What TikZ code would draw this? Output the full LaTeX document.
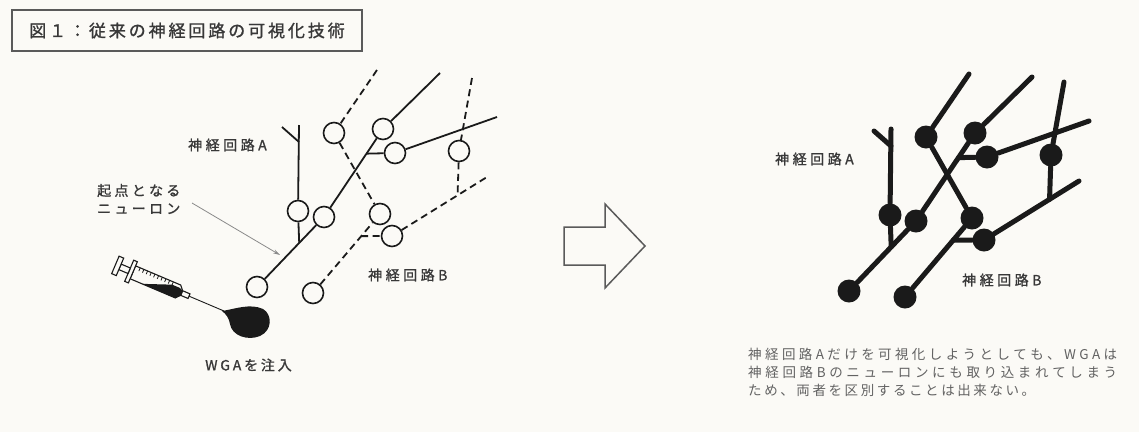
\documentclass[tikz,border=0pt]{standalone}
\usepackage{fontspec}
\newfontfamily\jp{Noto Sans CJK JP}
\newfontfamily\jpb[FakeBold=1.2]{Noto Sans CJK JP}
\usetikzlibrary{calc,arrows.meta}
\pgfdeclarelayer{background}
\pgfsetlayers{background,main}

\definecolor{paper}{HTML}{FBFAF6}
\definecolor{ink}{HTML}{1A1A1A}
\definecolor{txt}{HTML}{383838}
\definecolor{frame}{HTML}{5A5A5A}
\definecolor{soft}{HTML}{626262}
\definecolor{pointer}{HTML}{8A8A8A}

% letter-spaced text and justified lines, one character at a time
\makeatletter
\newcommand\trk[2]{\@tfor\trk@c:=#2\do{\trk@c\hspace{#1}}\unskip}
\newcommand\jline[2]{\hbox to #1{\@tfor\trk@c:=#2\do{\trk@c\hskip 0pt plus 1fil}\unskip}}
\makeatother

\tikzset{
  opencell/.style={circle, draw=ink, line width=1.6pt, fill=paper, minimum size=21pt, inner sep=0pt},
  dotcell/.style={circle, fill=ink, minimum size=23pt, inner sep=0pt},
  fibreA/.style={draw=ink, line width=1.8pt},
  fibreB/.style={draw=ink, line width=1.8pt, dash pattern=on 7pt off 4.5pt},
  heavy/.style={draw=ink, line width=5pt, line cap=round},
  label/.style={text=txt, font=\jpb\fontsize{14}{18}\selectfont, inner sep=0pt},
}

% two neuron circuits: #1 name prefix, #2 shift, #3 cell style, #4 circuit A style, #5 circuit B style
\newcommand\circuit[5]{%
  \begin{scope}[shift={#2}]
    \node[#3] (#1n1) at (334,133) {};
    \node[#3] (#1n2) at (383,129) {};
    \node[#3] (#1n3) at (395,153) {};
    \node[#3] (#1n4) at (459,151) {};
    \node[#3] (#1n5) at (298,211) {};
    \node[#3] (#1n6) at (324,217) {};
    \node[#3] (#1n7) at (380,214) {};
    \node[#3] (#1n8) at (392,236) {};
    \node[#3] (#1n9) at (257,287) {};
    \node[#3] (#1n10) at (313,293) {};
    \coordinate (#1a2) at (440,73);
    \coordinate (#1a3) at (497,117);
    \coordinate (#1stem) at (299,125);
    \coordinate (#1fork) at (299,142);
    \coordinate (#1arm) at (282,127);
    \coordinate (#1b1) at (377,70);
    \coordinate (#1b4) at (472,78);
    \coordinate (#1b8) at (487,177);
  \end{scope}
  \coordinate (#1j1) at ($(#1n9)!0.63!(#1n6)$);
  \coordinate (#1j2) at ($(#1n6)!0.72!(#1n2)$);
  \coordinate (#1j3) at ($(#1n10)!0.72!(#1n7)$);
  \coordinate (#1j4) at ($(#1n8)!0.69!(#1b8)$);
  \begin{pgfonlayer}{background}
    % circuit A
    \draw[#4] (#1n9) -- (#1n6) -- (#1n2) -- (#1a2);
    \draw[#4] (#1j2) -- (#1n3) -- (#1a3);
    \draw[#4] (#1stem) -- (#1n5) -- (#1j1);
    \draw[#4] (#1arm) -- (#1fork);
    % circuit B
    \draw[#5] (#1b1) -- (#1n1) -- (#1n7);
    \draw[#5] (#1n10) -- (#1n7);
    \draw[#5] (#1j3) -- (#1n8) -- (#1b8);
    \draw[#5] (#1b4) -- (#1n4) -- (#1j4);
  \end{pgfonlayer}
}

\begin{document}
\begin{tikzpicture}[x=1pt, y=-1pt]
  \useasboundingbox (0,0) rectangle (1139,432);
  \begin{pgfonlayer}{background}
    \fill[paper] (0,0) rectangle (1139,432);
  \end{pgfonlayer}

  % caption box
  \node[draw=frame, line width=1.5pt, minimum width=350pt, minimum height=41pt,
        inner sep=0pt, text=txt, font=\jpb\fontsize{17}{20}\selectfont]
    (title) at (187,30.5) {\trk{2.9pt}{図１：従来の神経回路の可視化技術}};

  % before: open cells, circuit B dashed
  \circuit{L}{(0,0)}{opencell}{fibreA}{fibreB}

  \node[label, anchor=west] (labA) at (188,145) {\trk{3.5pt}{神経回路A}};
  \node[label, anchor=west] (labB) at (368,275) {\trk{3.5pt}{神経回路B}};
  \node[label, anchor=west, align=left] (origin) at (97,199)
    {\trk{3.3pt}{起点となる}\\\trk{3.3pt}{ニューロン}};
  \coordinate (ptrStart) at (192,203);
  \coordinate (ptrEnd) at (280,255);
  \draw[pointer, line width=0.8pt, -{Stealth[length=7pt,width=4pt]}] (ptrStart) -- (ptrEnd);

  % syringe
  \begin{scope}[shift={(224,311)}, rotate=-23, draw=ink, line width=1.1pt]
    \draw[line width=0.9pt] (0,0) -- (-38,0);
    \draw[fill=paper] (-38,-2.5) rectangle (-46,2.5);
    \draw[fill=paper] (-46,-2.5) -- (-50,-7) -- (-99,-7) -- (-99,7) -- (-50,7) -- (-46,2.5) -- cycle;
    \fill[ink] (-46,-2.5) -- (-50,-4) -- (-58,-4) -- (-86,7) -- (-50,7) -- (-46,2.5) -- cycle;
    \foreach \u in {-58,-62,...,-94} \draw[line width=0.8pt] (\u,-7) -- (\u,-3.5);
    \draw[fill=paper] (-99,-11.5) rectangle (-103,11.5);
    \draw[fill=paper] (-103,-3) rectangle (-113,3);
    \draw[fill=paper] (-113,-9.5) rectangle (-118,9.5);
  \end{scope}
  % injected drop
  \fill[ink] (222,311) .. controls (235,309) and (250,303) .. (263,309)
    .. controls (272,314) and (273,330) .. (260,336)
    .. controls (248,341) and (232,336) .. (230,324)
    .. controls (229,318) and (226,314) .. (222,311) -- cycle;
  \node[label] (wga) at (248.5,365) {\trk{2.8pt}{WGAを注入}};

  % outlined arrow between the two states
  \draw[frame, line width=1.5pt, line join=miter]
    (564,227) -- (605,227) -- (605,204) -- (645,246) -- (605,288) -- (605,265) -- (564,265) -- cycle;

  % after: both circuits labelled
  \circuit{R}{(592,4)}{dotcell}{heavy}{heavy}

  \node[label, anchor=west] (labRA) at (775,159) {\trk{3.5pt}{神経回路A}};
  \node[label, anchor=west] (labRB) at (962,280) {\trk{3.5pt}{神経回路B}};

  \node[anchor=west, align=left, inner sep=0pt, text=soft, font=\jp\fontsize{13.5}{18}\selectfont] (note) at (748,372)
    {\jline{369pt}{神経回路Aだけを可視化しようとしても、WGAは}\\
     \jline{369pt}{神経回路Bのニューロンにも取り込まれてしまう}\\
     \jline{287pt}{ため、両者を区別することは出来ない。}};
\end{tikzpicture}
\end{document}
